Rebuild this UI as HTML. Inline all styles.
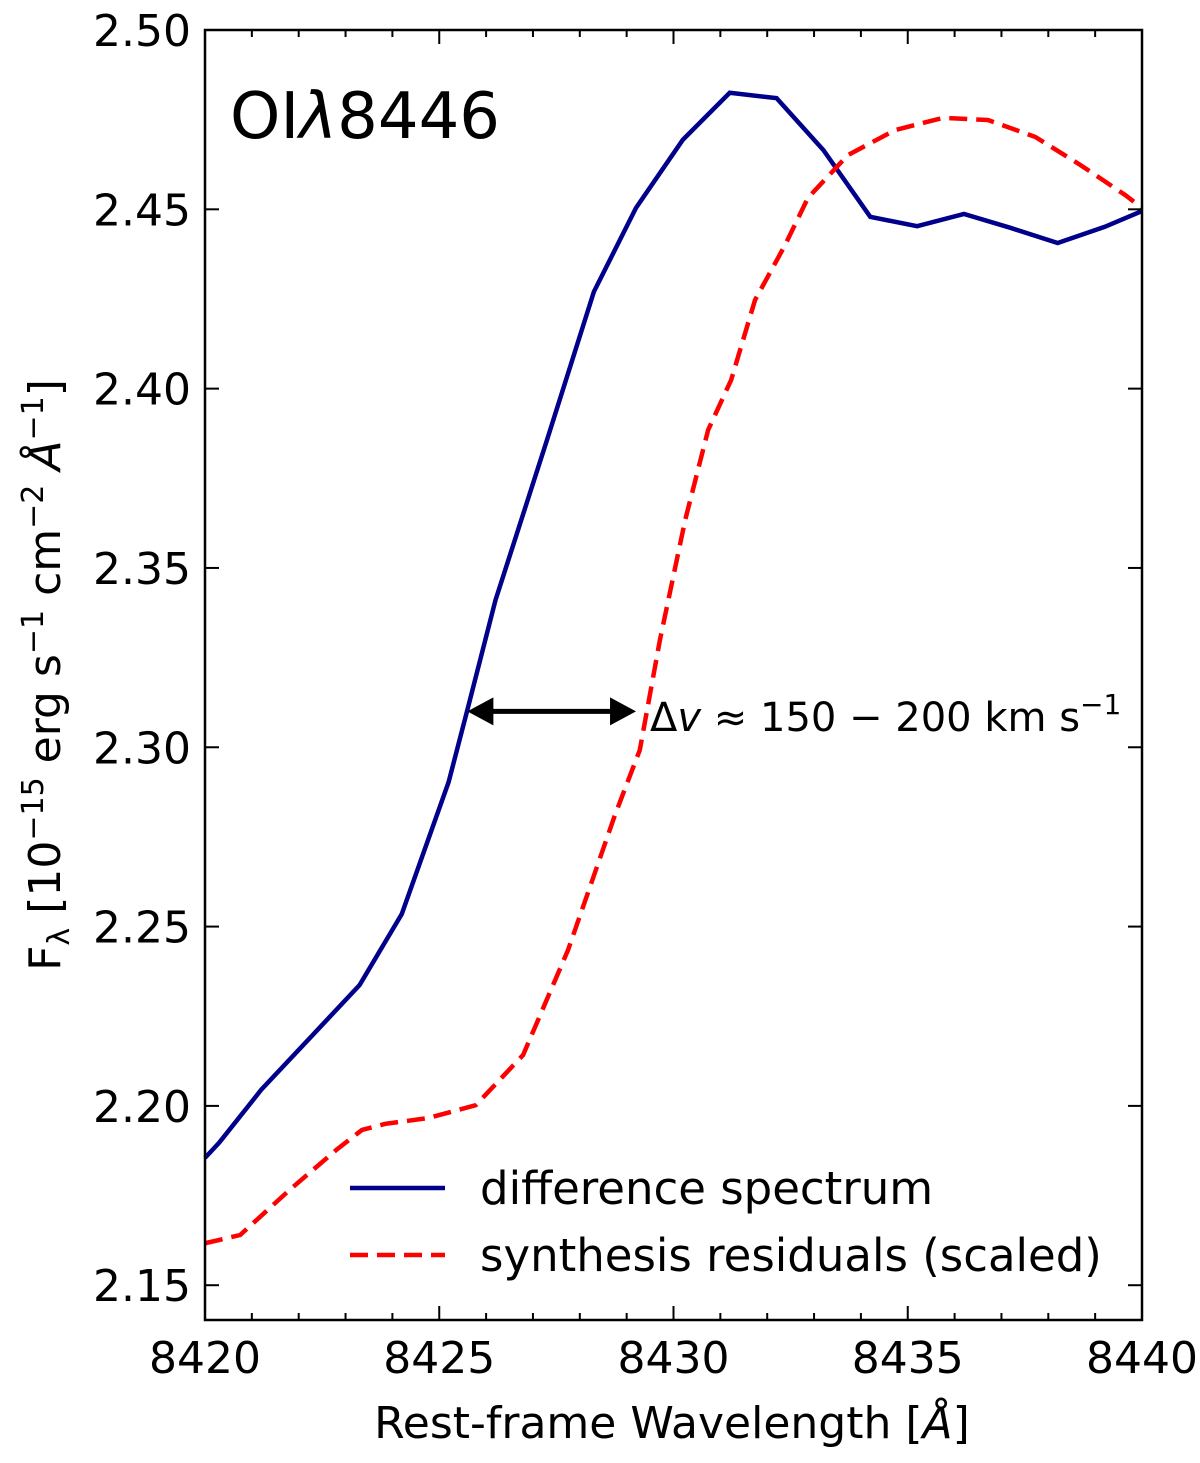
<!DOCTYPE html>
<html><head><meta charset="utf-8"><style>
body{margin:0;background:#fff}
svg text{font-family:"DejaVu Sans","Liberation Sans",sans-serif;fill:#000}
</style></head><body>
<svg id="chart" width="1200" height="1458" xmlns="http://www.w3.org/2000/svg"></svg>
<script>
const blueX=[8420,8420.3,8421.2,8422.2,8423.3,8424.2,8425.2,8425.6,8426.2,8427.3,8428.3,8429.2,8430.2,8431.2,8432.2,8433.2,8434.2,8435.2,8436.2,8437.2,8438.2,8439.2,8440];
const blueY=[2.1855,2.1897,2.2045,2.2184,2.2337,2.2535,2.2903,2.3104,2.341,2.3857,2.427,2.4504,2.4694,2.4825,2.481,2.4665,2.4479,2.4453,2.4487,2.4448,2.4406,2.4451,2.4495];
const redX=[8420,8420.75,8421.8,8422.8,8423.35,8423.85,8424.76,8425.78,8426.79,8427.75,8428.75,8429.28,8429.71,8430.25,8430.74,8431.23,8431.74,8432.38,8432.87,8433.72,8434.73,8435.75,8436.71,8437.72,8438.68,8439.64,8440];
const redY=[2.1617,2.164,2.1765,2.1877,2.1933,2.195,2.1966,2.2002,2.2142,2.2435,2.2811,2.2992,2.3299,2.3634,2.3885,2.4024,2.4247,2.44,2.4532,2.4651,2.4721,2.4755,2.4749,2.4702,2.4624,2.454,2.4504];
const xTicks=[8420,8425,8430,8435,8440];
const yTicks=[2.15,2.20,2.25,2.30,2.35,2.40,2.45,2.50];
const arrowX=[8425.6,8429.2], arrowY=2.31;

const L=205,R=1142,T=30,B=1320,x0=8420,x1=8440,y0=2.1403,y1=2.50;
const sx=v=>L+(v-x0)/(x1-x0)*(R-L);
const sy=v=>B-(v-y0)/(y1-y0)*(B-T);
const svg=document.getElementById('chart');
const NS='http://www.w3.org/2000/svg';
function mk(tag,attrs,parent){const e=document.createElementNS(NS,tag);for(const k in attrs)e.setAttribute(k,attrs[k]);(parent||svg).appendChild(e);return e;}

function series(xs,ys,color,dash,name){
  const p=mk('polyline',{points:xs.map((v,i)=>sx(v)+','+sy(ys[i])).join(' '),fill:'none',stroke:color,'stroke-width':4.5,'stroke-dasharray':dash||'none'});
  
  
}
series(blueX,blueY,'#00008b','', 'difference-spectrum-line');
series(redX,redY,'#ff0000','18,9','synthesis-residuals-line');

const fr=mk('rect',{x:L,y:T,width:R-L,height:B-T,fill:'none',stroke:'#000','stroke-width':2.5});



for(let v=x0;v<=x1;v++){
  const major=xTicks.includes(v);const len=major?14:7;const X=sx(v);
  mk('line',{x1:X,y1:B,x2:X,y2:B-len,stroke:'#000','stroke-width':2});
  mk('line',{x1:X,y1:T,x2:X,y2:T+len,stroke:'#000','stroke-width':2});
}
xTicks.forEach(v=>{const t=mk('text',{x:sx(v),y:B+53,'font-size':44,'text-anchor':'middle'});t.textContent=v;
  
  });
yTicks.forEach(v=>{const Y=sy(v);
  mk('line',{x1:L,y1:Y,x2:L+14,y2:Y,stroke:'#000','stroke-width':2});
  mk('line',{x1:R,y1:Y,x2:R-14,y2:Y,stroke:'#000','stroke-width':2});
  const t=mk('text',{x:L-14,y:Y+16,'font-size':44,'text-anchor':'end'});t.textContent=v.toFixed(2);
  
  });

const ax1=sx(arrowX[0]),ax2=sx(arrowX[1]),ay=sy(arrowY);
const ar=mk('g',{});


mk('line',{x1:ax1+20,y1:ay,x2:ax2-20,y2:ay,stroke:'#000','stroke-width':5},ar);
mk('polygon',{points:`${ax1},${ay} ${ax1+26},${ay-14} ${ax1+26},${ay+14}`,fill:'#000'},ar);
mk('polygon',{points:`${ax2},${ay} ${ax2-26},${ay-14} ${ax2-26},${ay+14}`,fill:'#000'},ar);
</script>
<svg style="position:absolute;left:0;top:0" width="1200" height="1458">
<text x="650" y="731" font-size="40">Δ<tspan font-style="italic">v</tspan> ≈ 150 − 200 km s<tspan dy="-17" font-size="28">−1</tspan></text>
<text x="230" y="138" font-size="64">OI<tspan font-style="italic">λ</tspan>8446</text>
<text x="672" y="1438" font-size="44" text-anchor="middle">Rest-frame Wavelength [<tspan font-style="italic">Å</tspan>]</text>
<text transform="translate(60,675) rotate(-90)" font-size="44" text-anchor="middle">F<tspan font-size="30" dy="9">λ</tspan><tspan dy="-9"> [10</tspan><tspan font-size="30" dy="-17">−15</tspan><tspan dy="17"> erg s</tspan><tspan font-size="30" dy="-17">−1</tspan><tspan dy="17"> cm</tspan><tspan font-size="30" dy="-17">−2</tspan><tspan dy="17" font-style="italic"> Å</tspan><tspan font-size="30" dy="-17">−1</tspan><tspan dy="17">]</tspan></text>
<g>
<line x1="350" y1="1188" x2="445" y2="1188" stroke="#00008b" stroke-width="4.5"/>
<text x="480" y="1204" font-size="45">difference spectrum</text>
<line x1="350" y1="1255" x2="445" y2="1255" stroke="#ff0000" stroke-width="4.5" stroke-dasharray="18,9"/>
<text x="480" y="1271" font-size="45">synthesis residuals (scaled)</text>
</g>
</svg>
</body></html>
